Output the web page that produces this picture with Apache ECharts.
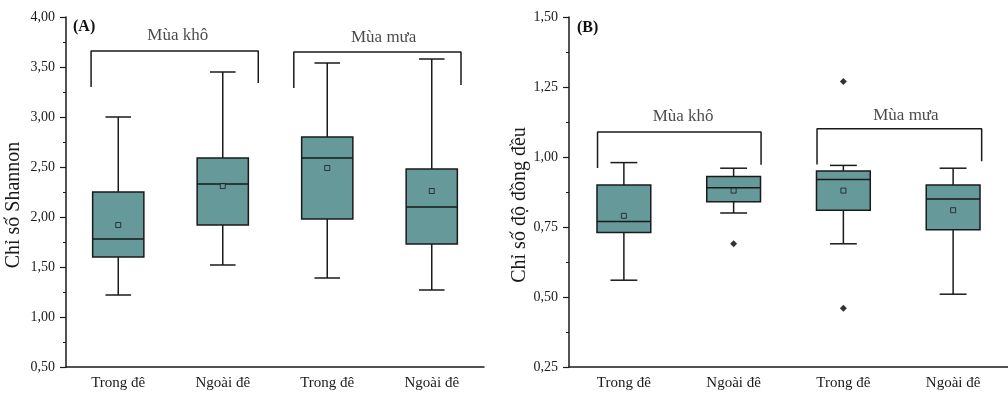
<!DOCTYPE html>
<html>
<head>
<meta charset="utf-8">
<script src="https://cdn.jsdelivr.net/npm/echarts@6/dist/echarts.min.js"></script>
<style>
  html, body { margin: 0; padding: 0; background: #fff; }
  #chart { width: 1008px; height: 396px; }
</style>
</head>
<body>
<div id="chart"></div>
<script>
var categories = ['Trong đê', 'Ngoài đê', 'Trong đê', 'Ngoài đê'];
var seasons = ['Mùa khô', 'Mùa mưa'];

// (A) Shannon index
var shannonMin = [1.22, 1.52, 1.39, 1.27];
var shannonQ1 = [1.60, 1.92, 1.98, 1.73];
var shannonMedian = [1.78, 2.33, 2.59, 2.10];
var shannonQ3 = [2.25, 2.59, 2.80, 2.48];
var shannonMax = [3.00, 3.45, 3.54, 3.58];
var shannonMean = [1.92, 2.31, 2.49, 2.26];

// (B) evenness index
var evenMin = [0.56, 0.80, 0.69, 0.51];
var evenQ1 = [0.73, 0.84, 0.81, 0.74];
var evenMedian = [0.77, 0.89, 0.92, 0.85];
var evenQ3 = [0.90, 0.93, 0.95, 0.90];
var evenMax = [0.98, 0.96, 0.97, 0.96];
var evenMean = [0.79, 0.88, 0.88, 0.81];
var evenOutliers = [[1, 0.69], [2, 1.27], [2, 0.46]];

// season brackets (x in category units, y in axis units)
var bracketA = [
    [[-0.26, 3.30], [-0.26, 3.66], [1.34, 3.66], [1.34, 3.34]],
    [[1.68, 3.29], [1.68, 3.65], [3.28, 3.65], [3.28, 3.32]]
];
var seasonLabelA = [[0.57, 3.81], [2.54, 3.79]];
var bracketB = [
    [[-0.24, 0.961], [-0.24, 1.089], [1.25, 1.089], [1.25, 0.972]],
    [[1.76, 0.973], [1.76, 1.101], [3.26, 1.101], [3.26, 0.985]]
];
var seasonLabelB = [[0.54, 1.144], [2.57, 1.147]];

var FONT = 'Liberation Serif';
var FILL = '#669999';
var INK = '#1a1a1a';

function boxData(mn, q1, md, q3, mx) {
    return categories.map(function (c, i) {
        return [i, mn[i], q1[i], md[i], q3[i], mx[i]];
    });
}

function renderBox(params, api) {
    var x = api.value(0);
    var band = api.size([1, 0])[0];
    var bw = band * 0.49;
    var pMin = api.coord([x, api.value(1)]);
    var pQ1 = api.coord([x, api.value(2)]);
    var pMd = api.coord([x, api.value(3)]);
    var pQ3 = api.coord([x, api.value(4)]);
    var pMax = api.coord([x, api.value(5)]);
    var cx = pQ1[0];
    var cap = bw / 4;
    var st = {stroke: INK, lineWidth: 1.5, fill: null};
    return {
        type: 'group',
        children: [
            {type: 'line', shape: {x1: cx, y1: pQ3[1], x2: cx, y2: pMax[1]}, style: st},
            {type: 'line', shape: {x1: cx - cap, y1: pMax[1], x2: cx + cap, y2: pMax[1]}, style: st},
            {type: 'line', shape: {x1: cx, y1: pQ1[1], x2: cx, y2: pMin[1]}, style: st},
            {type: 'line', shape: {x1: cx - cap, y1: pMin[1], x2: cx + cap, y2: pMin[1]}, style: st},
            {type: 'rect', shape: {x: cx - bw / 2, y: pQ3[1], width: bw, height: pQ1[1] - pQ3[1]},
                style: {fill: FILL, stroke: INK, lineWidth: 1.5}},
            {type: 'line', shape: {x1: cx - bw / 2, y1: pMd[1], x2: cx + bw / 2, y2: pMd[1]}, style: st}
        ]
    };
}

function fmt(v) {
    return v.toFixed(2).replace('.', ',');
}

function yAxisOf(grid, min, max, step) {
    return {
        type: 'value', gridIndex: grid, min: min, max: max, interval: step,
        axisLine: {show: true, onZero: false, lineStyle: {color: INK, width: 1.5}},
        axisTick: {show: true, length: 6, lineStyle: {color: INK, width: 1.2}},
        minorTick: {show: true, splitNumber: 2, length: 3, lineStyle: {color: INK, width: 1}},
        splitLine: {show: false},
        axisLabel: {formatter: fmt, margin: 11, color: '#1a1a1a', fontFamily: FONT, fontSize: 14}
    };
}

function catAxisOf(grid) {
    return {
        type: 'category', gridIndex: grid, data: categories,
        axisLine: {onZero: false, lineStyle: {color: INK, width: 1.5}},
        axisTick: {alignWithLabel: true, length: 5, lineStyle: {color: INK, width: 1.2}},
        axisLabel: {margin: 9, color: '#1a1a1a', fontFamily: FONT, fontSize: 15}
    };
}

function hiddenX(grid) {
    return {type: 'value', gridIndex: grid, min: -0.5, max: 3.5, show: false};
}

function meanPoints(arr) {
    return arr.map(function (v, i) { return [i, v]; });
}

var series = [];
[[0, boxData(shannonMin, shannonQ1, shannonMedian, shannonQ3, shannonMax), shannonMean, [], bracketA, seasonLabelA],
 [1, boxData(evenMin, evenQ1, evenMedian, evenQ3, evenMax), evenMean, evenOutliers, bracketB, seasonLabelB]]
.forEach(function (p) {
    var g = p[0];
    series.push({type: 'custom', xAxisIndex: g * 2, yAxisIndex: g, data: p[1], renderItem: renderBox,
        encode: {x: 0, y: [1, 2, 3, 4, 5]}, z: 2, silent: true});
    series.push({type: 'scatter', xAxisIndex: g * 2, yAxisIndex: g, data: meanPoints(p[2]),
        symbol: 'rect', symbolSize: 5, z: 5, silent: true,
        itemStyle: {color: FILL, borderColor: INK, borderWidth: 1}});
    if (p[3].length) {
        series.push({type: 'scatter', xAxisIndex: g * 2, yAxisIndex: g, data: p[3],
            symbol: 'diamond', symbolSize: 7, z: 5, silent: true, itemStyle: {color: '#000'}});
    }
    p[4].forEach(function (b) {
        series.push({type: 'line', xAxisIndex: g * 2 + 1, yAxisIndex: g, data: b, symbol: 'none',
            lineStyle: {color: INK, width: 1.5}, silent: true, animation: false});
    });
    series.push({type: 'scatter', xAxisIndex: g * 2 + 1, yAxisIndex: g, symbolSize: 0, silent: true,
        data: p[5].map(function (pt, i) { return {name: seasons[i], value: pt}; }),
        label: {show: true, position: 'inside', formatter: '{b}', color: '#1a1a1a', fontFamily: FONT, fontSize: 17}});
});

var chart = echarts.init(document.getElementById('chart'));
chart.setOption({
    animation: false,
    backgroundColor: '#fff',
    grid: [
        {left: 66, top: 17, right: 524, bottom: 29},
        {left: 569, top: 17, right: -9, bottom: 29}
    ],
    xAxis: [catAxisOf(0), hiddenX(0), catAxisOf(1), hiddenX(1)],
    yAxis: [yAxisOf(0, 0.5, 4, 0.5), yAxisOf(1, 0.25, 1.5, 0.25)],
    graphic: [
        {type: 'text', left: 73, top: 19, style: {text: '(A)', font: 'bold 16px "Liberation Serif"', fill: '#111'}},
        {type: 'text', left: 577, top: 20, style: {text: '(B)', font: 'bold 16px "Liberation Serif"', fill: '#111'}},
        {type: 'text', x: 14, y: 205, rotation: Math.PI / 2,
            style: {text: 'Chỉ số Shannon', font: '20px "Liberation Serif"', fill: '#1a1a1a', align: 'center', verticalAlign: 'middle'}},
        {type: 'text', x: 520, y: 205, rotation: Math.PI / 2,
            style: {text: 'Chỉ số độ đồng đều', font: '20px "Liberation Serif"', fill: '#1a1a1a', align: 'center', verticalAlign: 'middle'}}
    ],
    series: series
});
</script>
</body>
</html>
